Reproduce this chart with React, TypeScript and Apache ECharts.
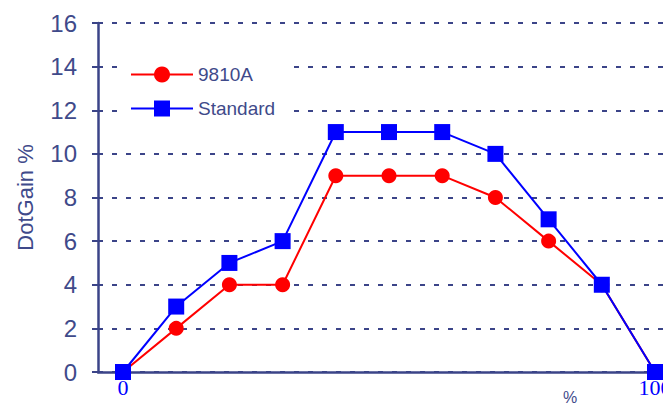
import React, { useEffect, useRef } from "react";
import * as echarts from "echarts";

const xValues = [0, 10, 20, 30, 40, 50, 60, 70, 80, 90, 100];
const series9810A = [0, 2, 4, 4, 9, 9, 9, 8, 6, 4, 0];
const seriesStandard = [0, 3, 5, 6, 11, 11, 11, 10, 7, 4, 0];
const xLabelValues = [0, 100];

const NAVY = "#3b4488";
const LABEL = "#3f4a8a";

export default function App() {
  const ref = useRef<HTMLDivElement>(null);
  useEffect(() => {
    if (!ref.current) return;
    const chart = echarts.init(ref.current, null, { renderer: "svg" });
    const toPairs = (ys: number[]) => xValues.map((x, i) => [x, ys[i]]);
    chart.setOption({
      animation: false,
      backgroundColor: "#ffffff",
      grid: {
        left: 98,
        top: 23,
        width: 565,
        height: 349,
        containLabel: false,
        outerBoundsMode: "none",
      },
      legend: {
        orient: "vertical",
        left: 120,
        top: 60,
        padding: [5, 10, 5, 10],
        backgroundColor: "#ffffff",
        itemWidth: 62,
        itemHeight: 20,
        itemGap: 15,
        textStyle: { fontSize: 19, color: LABEL, fontFamily: "Liberation Sans, Arial" },
        data: ["9810A", "Standard"],
      },
      xAxis: {
        type: "value",
        min: -4.7,
        max: 101.5,
        axisLine: { show: true, onZero: false, lineStyle: { color: NAVY, width: 2.5 } },
        axisTick: { show: false },
        splitLine: { show: false },
        axisLabel: {
          customValues: xLabelValues,
          color: "#0000ff",
          fontSize: 22,
          fontFamily: "Liberation Serif, Times New Roman, serif",
          margin: 4,
          hideOverlap: false,
        },
      },
      yAxis: {
        type: "value",
        min: 0,
        max: 16,
        interval: 2,
        name: "DotGain %",
        nameLocation: "middle",
        nameGap: 62,
        nameMoveOverlap: false,
        nameTextStyle: { fontSize: 22, color: LABEL, fontFamily: "Liberation Sans, Arial" },
        axisLine: { show: true, onZero: false, lineStyle: { color: NAVY, width: 2.5 } },
        axisTick: { show: true, inside: false, length: 6, lineStyle: { color: NAVY, width: 2 } },
        splitLine: { show: true, lineStyle: { color: NAVY, width: 2, type: [5, 9] } },
        axisLabel: { color: LABEL, fontSize: 24, fontFamily: "Liberation Sans, Arial", margin: 21 },
      },
      graphic: [
        {
          type: "text",
          left: 563,
          top: 389,
          style: { text: "%", fontSize: 16, fill: LABEL, fontFamily: "Liberation Sans, Arial" },
        },
      ],
      series: [
        {
          name: "9810A",
          type: "line",
          data: toPairs(series9810A),
          symbol: "circle",
          symbolSize: 15,
          itemStyle: { color: "#ff0000" },
          lineStyle: { color: "#ff0000", width: 2 },
          clip: false,
        },
        {
          name: "Standard",
          type: "line",
          data: toPairs(seriesStandard),
          symbol: "rect",
          symbolSize: 16,
          itemStyle: { color: "#0000ff" },
          lineStyle: { color: "#0000ff", width: 2 },
          clip: false,
        },
      ],
    });
    return () => chart.dispose();
  }, []);
  return (
    <div
      ref={ref}
      style={{ position: "absolute", left: 0, top: 0, width: 663, height: 407 }}
    />
  );
}
